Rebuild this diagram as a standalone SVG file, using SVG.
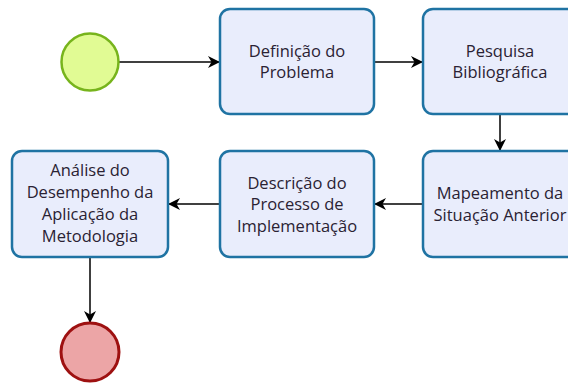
<svg xmlns="http://www.w3.org/2000/svg" width="568" height="385" viewBox="0 0 568 385">
<style>
.box{fill:#e9edfc;stroke:#1f73a3;stroke-width:2.5}
.t{font-family:"Open Sans","Noto Sans",sans-serif;font-size:16.5px;fill:#2a2233;text-anchor:middle}
.c{fill:none;stroke:#000;stroke-width:1.5}
</style>
<defs>
<marker id="ah" viewBox="0 0 12 12" refX="11" refY="6" markerWidth="12" markerHeight="12" markerUnits="userSpaceOnUse" orient="auto">
<path d="M0,0 L12,6 L0,12 L3.5,6 Z" fill="#000"/>
</marker>
</defs>
<g id="connectors">
<path class="c" d="M119,62 H219" marker-end="url(#ah)"/>
<path class="c" d="M374,62 H422" marker-end="url(#ah)"/>
<path class="c" d="M500,114 V150" marker-end="url(#ah)"/>
<path class="c" d="M423,204 H375" marker-end="url(#ah)"/>
<path class="c" d="M219,204 H169" marker-end="url(#ah)"/>
<path class="c" d="M90,257 V322" marker-end="url(#ah)"/>
</g>
<g id="start"><circle cx="90" cy="62" r="28.5" fill="#e1fb94" stroke="#77b41c" stroke-width="2.5"/></g>
<g id="n1"><rect class="box" x="220" y="9" width="154" height="105" rx="10"/>
<text class="t" x="297" y="57">Definição do</text><text class="t" x="297" y="78">Problema</text></g>
<g id="n2"><rect class="box" x="423" y="9" width="154" height="105" rx="10"/>
<text class="t" x="500" y="57">Pesquisa</text><text class="t" x="500" y="78">Bibliográfica</text></g>
<g id="n3"><rect class="box" x="423" y="151" width="154" height="106" rx="10"/>
<text class="t" x="500" y="199">Mapeamento da</text><text class="t" x="500" y="221">Situação Anterior</text></g>
<g id="n4"><rect class="box" x="220" y="151" width="154" height="106" rx="10"/>
<text class="t" x="297" y="189">Descrição do</text><text class="t" x="297" y="210">Processo de</text><text class="t" x="297" y="232">Implementação</text></g>
<g id="n5"><rect class="box" x="12" y="151" width="156" height="106" rx="10"/>
<text class="t" x="90" y="176">Análise do</text><text class="t" x="90" y="198">Desempenho da</text><text class="t" x="90" y="220">Aplicação da</text><text class="t" x="90" y="242">Metodologia</text></g>
<g id="end"><circle cx="90" cy="352" r="29" fill="#eca5a6" stroke="#9e1111" stroke-width="3"/></g>
</svg>
